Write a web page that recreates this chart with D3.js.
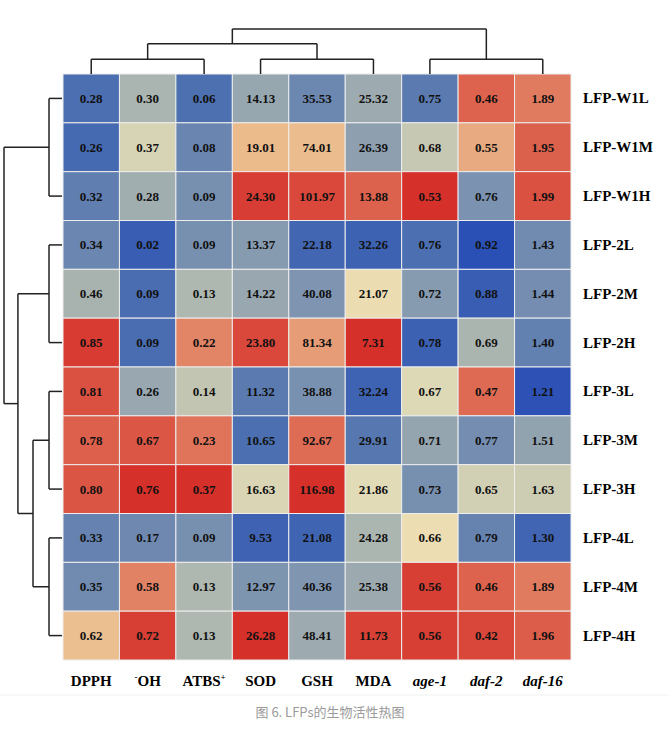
<!DOCTYPE html>
<html><head><meta charset="utf-8">
<script src="https://cdn.jsdelivr.net/npm/d3@7"></script>
<style>body{margin:0;background:#fff}</style>
</head><body><div id="chart"></div>
<script>
// data
const rows = ["LFP-W1L","LFP-W1M","LFP-W1H","LFP-2L","LFP-2M","LFP-2H","LFP-3L","LFP-3M","LFP-3H","LFP-4L","LFP-4M","LFP-4H"];
const cols = ["DPPH","OH","ATBS","SOD","GSH","MDA","age-1","daf-2","daf-16"];
const DPPH = [0.28,0.26,0.32,0.34,0.46,0.85,0.81,0.78,0.80,0.33,0.35,0.62];
const OH   = [0.30,0.37,0.28,0.02,0.09,0.09,0.26,0.67,0.76,0.17,0.58,0.72];
const ATBS = [0.06,0.08,0.09,0.09,0.13,0.22,0.14,0.23,0.37,0.09,0.13,0.13];
const SOD  = [14.13,19.01,24.30,13.37,14.22,23.80,11.32,10.65,16.63,9.53,12.97,26.28];
const GSH  = [35.53,74.01,101.97,22.18,40.08,81.34,38.88,92.67,116.98,21.08,40.36,48.41];
const MDA  = [25.32,26.39,13.88,32.26,21.07,7.31,32.24,29.91,21.86,24.28,25.38,11.73];
const age1 = [0.75,0.68,0.53,0.76,0.72,0.78,0.67,0.71,0.73,0.66,0.56,0.56];
const daf2 = [0.46,0.55,0.76,0.92,0.88,0.69,0.47,0.77,0.65,0.79,0.46,0.42];
const daf16= [1.89,1.95,1.99,1.43,1.44,1.40,1.21,1.51,1.63,1.30,1.89,1.96];
const values = [DPPH,OH,ATBS,SOD,GSH,MDA,age1,daf2,daf16];
// columns where a lower value is the better one (colour reversed)
const reversed = [false,false,false,false,false,true,true,true,false];

// dendrograms (leaf indices, relative heights)
const rowTree = {h:1, kids:[
  {h:0.224, kids:[0,1,2]},
  {h:0.76, kids:[
    {h:0.224, kids:[3,4,5]},
    {h:0.5, kids:[{h:0.224, kids:[6,7,8]}, {h:0.224, kids:[9,10,11]}]}
  ]}
]};
const colTree = {h:1, kids:[
  {h:0.67, kids:[{h:0.33, kids:[0,1,2]}, {h:0.33, kids:[3,4,5]}]},
  {h:0.33, kids:[6,7,8]}
]};

const W = 668, H = 733;
const svg = d3.select("#chart").append("svg").attr("width", W).attr("height", H);

const x = d3.scaleBand().domain(d3.range(cols.length)).range([63, 571]);
const y = d3.scaleBand().domain(d3.range(rows.length)).range([74, 660]);

const stops = [-1.5,-1,-0.5,-0.15,0.15,0.45,0.9,1.5];
const colorsStops = ["#2b50b5","#4b6fb0","#8a9db0","#b3bbb0","#ece2b8","#ebbd8e","#e07a5f","#d5302a"];
const color = d3.scaleLinear().domain(stops).range(colorsStops).clamp(true);

const cells = [];
values.forEach((col, j) => {
  const m = d3.mean(col), s = d3.deviation(col);
  col.forEach((v, i) => {
    let z = (v - m) / s;
    if (reversed[j]) z = -z;
    cells.push({i, j, v, z});
  });
});

svg.selectAll("rect.cell").data(cells).enter().append("rect")
  .attr("x", d => x(d.j)).attr("y", d => y(d.i))
  .attr("width", x.bandwidth()).attr("height", y.bandwidth())
  .attr("fill", d => color(d.z))
  .attr("stroke", "#eeeeee").attr("stroke-width", 1);

svg.selectAll("text.val").data(cells).enter().append("text")
  .attr("x", d => x(d.j) + x.bandwidth() / 2)
  .attr("y", d => y(d.i) + y.bandwidth() / 2 + 4.5)
  .attr("text-anchor", "middle")
  .style("font", "bold 13px 'Liberation Serif', serif")
  .attr("fill", "#111")
  .text(d => d.v.toFixed(2));

// row labels
svg.selectAll("text.row").data(rows).enter().append("text")
  .attr("x", 583).attr("y", (d, i) => y(i) + y.bandwidth() / 2 + 5)
  .style("font", "bold 15px 'Liberation Serif', serif")
  .text(d => d);

// column labels
const colLab = svg.selectAll("text.col").data(cols).enter().append("text")
  .attr("x", (d, i) => x(i) + x.bandwidth() / 2).attr("y", 686)
  .attr("text-anchor", "middle")
  .style("font", "bold 15px 'Liberation Serif', serif")
  .style("font-style", (d, i) => i >= 6 ? "italic" : "normal");
colLab.each(function(d) {
  const t = d3.select(this);
  if (d === "OH") {
    t.append("tspan").attr("dy", -6).style("font-size", "9px").text("-");
    t.append("tspan").attr("dy", 6).text("OH");
  } else if (d === "ATBS") {
    t.append("tspan").text("ATBS");
    t.append("tspan").attr("dy", -6).style("font-size", "9px").text("+");
  } else t.text(d);
});

// dendrogram drawing
function drawTree(tree, leafPos, hScale, vertical) {
  const segs = [];
  function pos(n) {
    if (typeof n === "number") return {p: leafPos(n), h: 0};
    const ks = n.kids.map(pos);
    const first = ks[0], last = ks[ks.length - 1];
    const hp = hScale(n.h);
    [first, last].forEach(k => segs.push([k.p, hScale(k.h), k.p, hp]));
    segs.push([first.p, hp, last.p, hp]);
    return {p: (first.p + last.p) / 2, h: n.h};
  }
  pos(tree);
  svg.append("g").selectAll("line").data(segs).enter().append("line")
    .attr("x1", d => vertical ? d[0] : d[1]).attr("y1", d => vertical ? d[1] : d[0])
    .attr("x2", d => vertical ? d[2] : d[3]).attr("y2", d => vertical ? d[3] : d[2])
    .attr("stroke", "#222").attr("stroke-width", 1.5);
}
const rowH = d3.scaleLinear().domain([0, 1]).range([62, 4]);
drawTree(rowTree, i => y(i) + y.bandwidth() / 2, rowH, false);
const colH = d3.scaleLinear().domain([0, 1]).range([74, 29]);
drawTree(colTree, i => x(i) + x.bandwidth() / 2, colH, true);

svg.append("line").attr("x1", 0).attr("x2", W).attr("y1", 695).attr("y2", 695)
  .attr("stroke", "#f0f0f0");
svg.append("text").attr("x", 330).attr("y", 717).attr("text-anchor", "middle")
  .style("font", "13px 'Noto Sans CJK SC', sans-serif").attr("fill", "#9a9a9a")
  .text("图 6. LFPs的生物活性热图");
</script></body></html>
